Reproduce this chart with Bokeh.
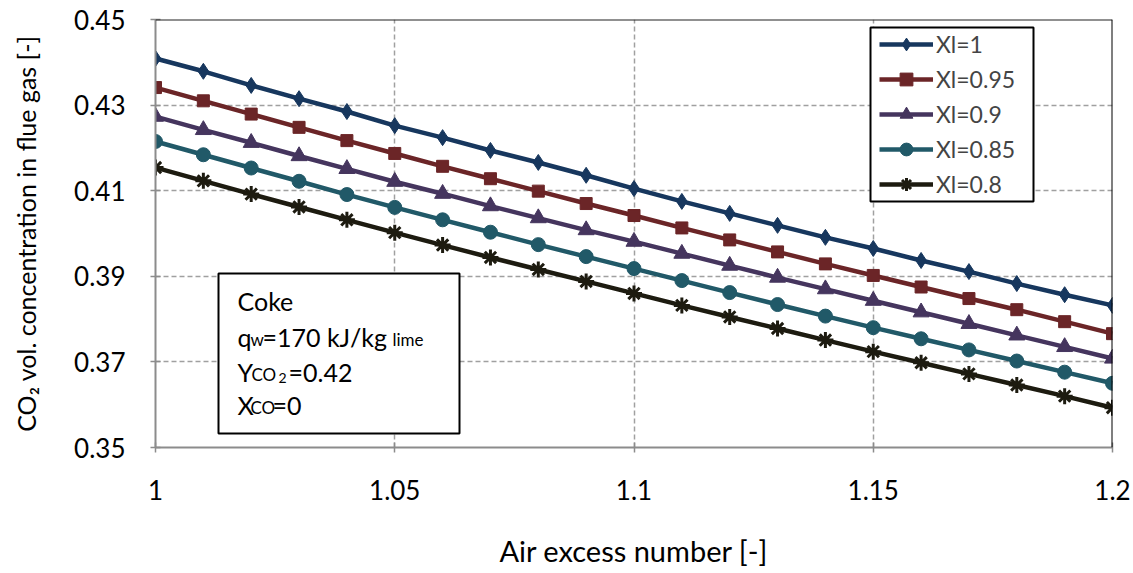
from bokeh.plotting import figure
from bokeh.models import (FixedTicker, CustomJSTickFormatter, Legend, LegendItem,
                          BoxAnnotation, Label, Span)
from bokeh.embed import file_html
from bokeh.resources import INLINE

air_excess = [1.00, 1.01, 1.02, 1.03, 1.04, 1.05, 1.06, 1.07, 1.08, 1.09, 1.10,
              1.11, 1.12, 1.13, 1.14, 1.15, 1.16, 1.17, 1.18, 1.19, 1.20]
xl_1 = [0.4409, 0.4379, 0.4346, 0.4315, 0.4285, 0.4252, 0.4224, 0.4194, 0.4166, 0.4136, 0.4105,
        0.4075, 0.4047, 0.4019, 0.3991, 0.3965, 0.3937, 0.3911, 0.3883, 0.3857, 0.3832]
xl_095 = [0.4341, 0.4310, 0.4279, 0.4248, 0.4217, 0.4187, 0.4157, 0.4128, 0.4099, 0.4070, 0.4042,
          0.4013, 0.3985, 0.3957, 0.3929, 0.3902, 0.3875, 0.3848, 0.3822, 0.3794, 0.3766]
xl_09 = [0.4273, 0.4242, 0.4212, 0.4181, 0.4151, 0.4121, 0.4093, 0.4064, 0.4036, 0.4008, 0.3981,
         0.3953, 0.3925, 0.3897, 0.3870, 0.3843, 0.3816, 0.3789, 0.3762, 0.3735, 0.3708]
xl_085 = [0.4215, 0.4184, 0.4153, 0.4122, 0.4091, 0.4061, 0.4032, 0.4003, 0.3974, 0.3946, 0.3918,
          0.3890, 0.3862, 0.3834, 0.3807, 0.3780, 0.3754, 0.3728, 0.3702, 0.3676, 0.3650]
xl_08 = [0.4154, 0.4123, 0.4092, 0.4062, 0.4032, 0.4002, 0.3973, 0.3944, 0.3916, 0.3888, 0.3860,
         0.3832, 0.3805, 0.3778, 0.3751, 0.3724, 0.3698, 0.3672, 0.3646, 0.3620, 0.3593]
series_labels = ["Xl=1", "Xl=0.95", "Xl=0.9", "Xl=0.85", "Xl=0.8"]
x_ticks = [1.0, 1.05, 1.1, 1.15, 1.2]
y_ticks = [0.35, 0.37, 0.39, 0.41, 0.43, 0.45]
x_title = "Air excess number [-]"
y_title = "CO\u2082 vol. concentration in flue gas [-]"

FONT = "Lato"
X0, X1, Y0, Y1 = 1.0, 1.2, 0.35, 0.45
L, R, T, B = 155, 21, 19, 126
W, H = 1133, 573
FW, FH = W - L - R, H - T - B

p = figure(width=W, height=H, output_backend="svg", toolbar_location=None,
           x_range=(X0, X1), y_range=(Y0, Y1),
           min_border_left=L, min_border_right=R, min_border_top=T, min_border_bottom=B)
p.outline_line_color = None
p.background_fill_color = "white"

fmt = CustomJSTickFormatter(code="return tick.toFixed(2).replace(/0+$/,'').replace(/\\.$/,'');")
p.xaxis.ticker = FixedTicker(ticks=x_ticks)
p.yaxis.ticker = FixedTicker(ticks=y_ticks)
p.xaxis.formatter = fmt
p.yaxis.formatter = CustomJSTickFormatter(code="return tick.toFixed(2);")
for ax in (p.xaxis[0], p.yaxis[0]):
    ax.axis_line_color = "#8c8c8c"
    ax.axis_line_width = 2
    ax.major_tick_line_color = "#8c8c8c"
    ax.major_tick_line_width = 1.5
    ax.major_tick_in = 5
    ax.major_tick_out = 5
    ax.minor_tick_line_color = None
    ax.major_label_text_font = FONT
    ax.major_label_text_font_size = "26px"
    ax.major_label_text_color = "black"
    ax.axis_label_text_font = FONT
    ax.axis_label_text_font_style = "normal"
    ax.axis_label_text_color = "black"
p.xaxis.major_label_standoff = 27
p.yaxis.major_label_standoff = 25
p.xaxis.axis_label = x_title
p.xaxis.axis_label_text_font_size = "29px"
p.xaxis.axis_label_standoff = 30
p.yaxis.axis_label = y_title
p.yaxis.axis_label_text_font_size = "25px"
p.yaxis.axis_label_standoff = 30

p.xgrid.ticker = FixedTicker(ticks=x_ticks)
p.ygrid.ticker = FixedTicker(ticks=y_ticks)
for g in (p.xgrid[0], p.ygrid[0]):
    g.grid_line_color = "#a0a0a0"
    g.grid_line_dash = "5 3"
    g.grid_line_width = 1.5

p.add_layout(Span(location=Y1, dimension="width", line_color="#222222", line_width=2))
p.add_layout(Span(location=X1, dimension="height", line_color="black", line_width=2))

colors = ["#17375E", "#6B2527", "#45355E", "#215968", "#1D1B10"]
markers = ["diamond", "square", "triangle", "circle", "asterisk"]
sizes = [16, 12, 16, 14, 16]
data = [xl_1, xl_095, xl_09, xl_085, xl_08]

items = []
for ys, c, m, s, lab in zip(data, colors, markers, sizes, series_labels):
    ln = p.line(air_excess, ys, line_color=c, line_width=4.5)
    if m == "asterisk":
        sc = p.scatter(air_excess, ys, marker=m, size=s, line_color=c, line_width=3)
    else:
        sc = p.scatter(air_excess, ys, marker=m, size=s, fill_color=c, line_color=c)
    items.append(LegendItem(label=lab, renderers=[ln, sc]))


def dx(px):
    return X0 + (px - L) / FW * (X1 - X0)


def dy(py):
    return Y1 - (py - T) / FH * (Y1 - Y0)


# legend frame
p.add_layout(BoxAnnotation(left=dx(870), right=dx(1033), top=dy(27), bottom=dy(201),
                           fill_color="white", fill_alpha=1, line_color="black",
                           line_width=2, line_alpha=1))

legend = Legend(items=items, location=(724, 247), label_text_font=FONT,
                label_text_font_size="23px", glyph_width=54, glyph_height=32,
                label_height=20, spacing=3, padding=4, margin=0,
                label_standoff=3, border_line_color=None,
                background_fill_alpha=0)
p.add_layout(legend, "center")

# info box
p.add_layout(BoxAnnotation(left=dx(218), right=dx(459), top=dy(273), bottom=dy(433),
                           fill_color="white", fill_alpha=1, line_color="black",
                           line_width=2, line_alpha=1))

SHIFT = -10
SMALL = 3
frags = [
    ("Coke", 237, 310, "25px", 0),
    ("q", 237, 346, "25px", 0), ("w", 250, 346, "17px", SMALL),
    ("=170 kJ/kg", 262, 346, "25px", 0), ("lime", 392, 346, "17px", SMALL),
    ("Y", 237, 381, "25px", 0), ("CO", 251, 381, "17px", SMALL), ("2", 278, 381, "14px", SMALL + 3),
    ("=0.42", 288, 381, "25px", 0),
    ("X", 237, 414, "25px", 0), ("CO", 250, 414, "17px", SMALL), ("=0", 272, 414, "25px", 0),
]
for txt, px, py, fs, extra in frags:
    p.add_layout(Label(x=dx(px), y=dy(py + SHIFT + extra), text=txt, text_font=FONT,
                       text_font_size=fs, text_color="black",
                       text_baseline="alphabetic", text_align="left"))

open("out.html", "w").write(file_html(p, INLINE))
